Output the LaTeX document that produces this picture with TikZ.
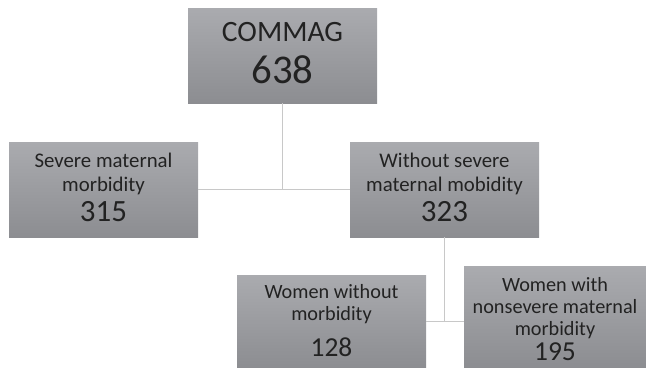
\documentclass[tikz,border=0pt]{standalone}
\usepackage{fontspec}
\setmainfont{Carlito}
\definecolor{boxtop}{RGB}{170,171,175}
\definecolor{boxbot}{RGB}{140,141,145}
\definecolor{ink}{RGB}{34,34,34}
\definecolor{wire}{RGB}{200,200,200}
\tikzset{
	box/.style 2 args={rectangle, top color=boxtop, bottom color=boxbot, draw=none,
		minimum width=#1*0.025cm, minimum height=#2*0.025cm, inner sep=0pt},
	txt/.style={anchor=base, inner sep=0pt, text=ink, font=\fontsize{14.8}{17}\selectfont},
	num/.style={anchor=base, inner sep=0pt, text=ink, font=\fontsize{22}{24}\selectfont},
	link/.style={draw=wire, line width=0.8pt}
}
\begin{document}
\begin{tikzpicture}[x=0.025cm, y=-0.025cm]
	\useasboundingbox (0,0) rectangle (646,368);
	% boxes
	\node[box={189}{95}] (commag) at (282.5,55.5) {};
	\node[box={189}{95}] (severe) at (103.5,189.5) {};
	\node[box={189}{95}] (without) at (444.5,189.5) {};
	\node[box={189}{93}] (wwo) at (331.5,321.5) {};
	\node[box={182}{102}] (wwith) at (555,317) {};
	
	% texts
	\node[txt, font=\fontsize{21}{23}\selectfont] (commagT) at (282.5,41.7) {COMMAG};
	\node[num, font=\fontsize{29}{31}\selectfont] (commagN) at (282.5,83.3) {638};
	
	\node[txt] (severeA) at (103.5,167.3) {Severe maternal};
	\node[txt] (severeB) at (103.5,191.5) {morbidity};
	\node[num] (severeN) at (103.5,221.7) {315};
	
	\node[txt] (withoutA) at (444.5,167.3) {Without severe};
	\node[txt] (withoutB) at (444.5,191.3) {maternal mobidity};
	\node[num] (withoutN) at (444.5,221.7) {323};
	
	\node[txt, font=\fontsize{14.4}{16}\selectfont] (wwoA) at (331.5,298.3) {Women without};
	\node[txt, font=\fontsize{14.4}{16}\selectfont] (wwoB) at (331.5,320) {morbidity};
	\node[num, font=\fontsize{19.5}{22}\selectfont] (wwoN) at (331.5,356) {128};
	
	\node[txt, font=\fontsize{14.4}{16}\selectfont] (wwithA) at (555,291.7) {Women with};
	\node[txt, font=\fontsize{14.4}{16}\selectfont] (wwithB) at (555,313.3) {nonsevere maternal};
	\node[txt, font=\fontsize{14.4}{16}\selectfont] (wwithC) at (555,335) {morbidity};
	\node[num, font=\fontsize{19.5}{22}\selectfont] (wwithN) at (555,360) {195};
	
	% connectors
	\draw[link] (severe.east) -- (without.west);
	\draw[link] (commag.south) -- (commag.south |- severe.east);
	\draw[link] (wwo.east) -- (wwo.east -| wwith.west);
	\draw[link] (without.south) -- (without.south |- wwo.east);
\end{tikzpicture}
\end{document}
